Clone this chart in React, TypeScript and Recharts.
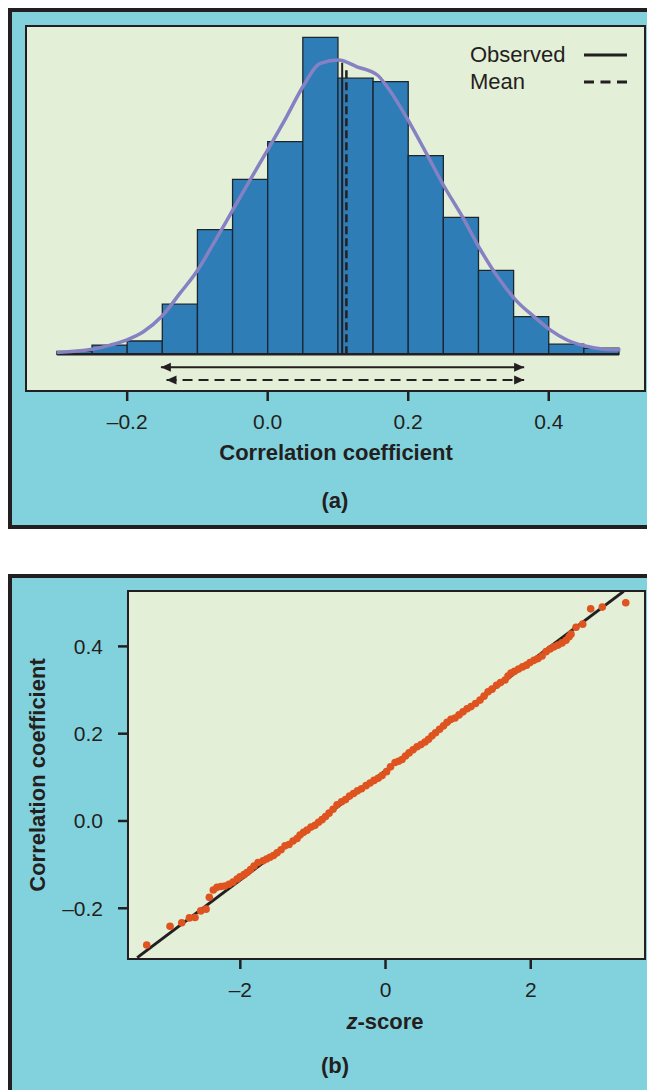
import React from 'react';
import { ComposedChart, XAxis, YAxis, Line, ReferenceArea, Scatter, Legend } from 'recharts';

// ---------- Panel (a): histogram of correlation coefficients ----------
const binStarts = [-0.3, -0.25, -0.2, -0.15, -0.1, -0.05, 0.0, 0.05, 0.1, 0.15, 0.2, 0.25, 0.3, 0.35, 0.4, 0.45];
const binCounts = [0.9, 2.9, 4.2, 15.8, 39.3, 55.2, 67.1, 100, 87.1, 86.0, 62.7, 43.2, 26.5, 11.9, 3.2, 1.9];
const binWidth = 0.05;

const curveR = [-0.3, -0.25, -0.224, -0.201, -0.177, -0.151, -0.125, -0.101, -0.077, -0.051, -0.025, 0.0, 0.027, 0.05, 0.075, 0.101, 0.127, 0.156, 0.17, 0.201, 0.227, 0.25, 0.277, 0.303, 0.327, 0.353, 0.379, 0.402, 0.426, 0.452, 0.478, 0.502];
const curveDensity = [0.6, 1.6, 2.9, 4.5, 7.1, 11.9, 19.2, 26.1, 35.0, 45.0, 55.0, 64.5, 75.0, 84.4, 91.8, 92.8, 90.7, 88.1, 84.4, 73.4, 62.9, 53.4, 43.4, 32.9, 24.5, 17.1, 11.9, 7.7, 4.5, 2.6, 1.6, 1.4];

const observedR = 0.106;
const observedTop = 92;
const meanR = 0.112;
const meanTop = 90;
const observedInterval = [-0.152, 0.365];
const meanInterval = [-0.144, 0.365];
const histRange = [-0.3, 0.5];
const histTicks = [-0.2, 0, 0.2, 0.4];

// ---------- Panel (b): normal quantile plot ----------
const qqZ = [-3.289, -2.968, -2.807, -2.702, -2.624, -2.545, -2.472, -2.427, -2.372, -2.321,
  -2.266, -2.211, -2.156, -2.1, -2.045, -2.004, -1.949, -1.908, -1.859, -1.811,
  -1.756, -1.687, -1.639, -1.591, -1.543, -1.494, -1.439, -1.384, -1.329, -1.274,
  -1.219, -1.178, -1.129, -1.081, -1.026, -0.971, -0.923, -0.875, -0.826, -0.778,
  -0.723, -0.668, -0.606, -0.551, -0.496, -0.441, -0.386, -0.331, -0.269, -0.213,
  -0.158, -0.103, -0.048, 0.014, 0.069, 0.131, 0.179, 0.227, 0.275, 0.324,
  0.379, 0.434, 0.489, 0.544, 0.592, 0.64, 0.689, 0.744, 0.799, 0.847,
  0.902, 0.957, 1.012, 1.067, 1.123, 1.178, 1.24, 1.302, 1.357, 1.412,
  1.467, 1.529, 1.584, 1.646, 1.687, 1.729, 1.777, 1.832, 1.887, 1.942,
  1.99, 2.045, 2.1, 2.156, 2.211, 2.266, 2.321, 2.376, 2.431, 2.486,
  2.528, 2.555, 2.624, 2.716, 2.826, 2.986, 3.309];
const qqR = [-0.284, -0.241, -0.233, -0.222, -0.221, -0.206, -0.202, -0.175, -0.158, -0.152,
  -0.15, -0.149, -0.145, -0.14, -0.133, -0.128, -0.123, -0.118, -0.111, -0.103,
  -0.095, -0.091, -0.087, -0.083, -0.079, -0.073, -0.066, -0.057, -0.054, -0.046,
  -0.04, -0.032, -0.026, -0.021, -0.014, -0.01, -0.003, 0.003, 0.01, 0.018,
  0.027, 0.037, 0.044, 0.049, 0.057, 0.063, 0.069, 0.074, 0.081, 0.087,
  0.093, 0.098, 0.104, 0.113, 0.124, 0.134, 0.137, 0.141, 0.149, 0.156,
  0.163, 0.17, 0.175, 0.181, 0.187, 0.195, 0.202, 0.21, 0.218, 0.226,
  0.233, 0.236, 0.243, 0.25, 0.257, 0.262, 0.269, 0.277, 0.286, 0.296,
  0.302, 0.311, 0.317, 0.323, 0.332, 0.339, 0.343, 0.348, 0.353, 0.357,
  0.363, 0.368, 0.372, 0.378, 0.388, 0.394, 0.399, 0.403, 0.408, 0.414,
  0.422, 0.428, 0.444, 0.451, 0.486, 0.49, 0.5];
const fitLineZ = [-3.42, 3.28];
const fitLineR = [-0.313, 0.526];
const qqXTicks = [-2, 0, 2];
const qqYTicks = [-0.2, 0, 0.2, 0.4];

// ---------- styles ----------
const FONT = "'Liberation Sans', Arial, Helvetica, sans-serif";
const INK = '#231F20';
const CYAN = '#82D2DE';
const PAPER = '#E4EFD7';
const BAR = '#2E7DB7';
const CURVE = '#8681C3';
const DOT = '#DE531F';

if (typeof document !== 'undefined') {
  document.body.style.margin = '0';
  document.body.style.overflow = 'hidden';
}

const fmtR = (v: number) => (v < 0 ? '\u2013' + Math.abs(v).toFixed(1) : v.toFixed(1));
const fmtZ = (v: number) => (v < 0 ? '\u2013' + Math.abs(v) : String(v));

const curveData = curveR.map((v, i) => ({ v, d: curveDensity[i] }));
const observedData = [{ v: observedR, d: 0 }, { v: observedR, d: observedTop }];
const meanData = [{ v: meanR, d: 0 }, { v: meanR, d: meanTop }];
const obsArrow = [{ v: observedInterval[0], d: -4.1 }, { v: observedInterval[1], d: -4.1 }];
const meanArrow = [{ v: meanInterval[0], d: -8.1 }, { v: meanInterval[1], d: -8.1 }];
const baseData = [{ v: histRange[0], d: 0 }, { v: histRange[1], d: 0 }];
const qqData = qqZ.map((z, i) => ({ z, r: qqR[i] }));
const fitData = fitLineZ.map((z, i) => ({ z, r: fitLineR[i] }));

const arrowHead = (props: any) => {
  const { cx, cy, index } = props;
  if (cx == null || cy == null) return <g key={'a' + index} />;
  const dir = index === 0 ? 1 : -1;
  const pts = `${cx},${cy} ${cx + dir * 10},${cy - 4.5} ${cx + dir * 10},${cy + 4.5}`;
  return <polygon key={'a' + index} points={pts} fill={INK} stroke="none" />;
};

const dotShape = (props: any) => <circle cx={props.cx} cy={props.cy} r={3.8} fill={DOT} />;

const LegendBox = () => (
  <div style={{ fontFamily: FONT, fontSize: 22, lineHeight: '27px', color: INK }}>
    <div style={{ display: 'flex', alignItems: 'center', height: 27 }}>
      <span style={{ width: 114, display: 'inline-block' }}>Observed</span>
      <svg width={44} height={6}><line x1={0} y1={3} x2={43} y2={3} stroke={INK} strokeWidth={3} /></svg>
    </div>
    <div style={{ display: 'flex', alignItems: 'center', height: 27 }}>
      <span style={{ width: 114, display: 'inline-block' }}>Mean</span>
      <svg width={44} height={6}><line x1={0} y1={3} x2={43} y2={3} stroke={INK} strokeWidth={3} strokeDasharray="10 6.5" /></svg>
    </div>
  </div>
);

const caption = (text: React.ReactNode, left: number, top: number, width: number): React.ReactNode => (
  <div style={{ position: 'absolute', left, top, width, textAlign: 'center', fontFamily: FONT, fontSize: 22, lineHeight: '22px', fontWeight: 700, color: INK, whiteSpace: 'nowrap' }}>{text}</div>
);

export default function App() {
  return (
    <div style={{ position: 'relative', width: 647, height: 1090, overflow: 'hidden', fontFamily: FONT, background: '#fff' }}>
      <div style={{ position: 'absolute', left: 8, top: 8, width: 639, height: 1082, overflow: 'hidden' }}>
        {/* panel frames */}
        <div style={{ position: 'absolute', left: 0, top: 0, width: 700, height: 521, boxSizing: 'border-box', border: `4px solid ${INK}`, background: CYAN }} />
        <div style={{ position: 'absolute', left: 0, top: 566, width: 700, height: 540, boxSizing: 'border-box', border: `4px solid ${INK}`, background: CYAN }} />
        {/* plot boxes */}
        <div style={{ position: 'absolute', left: 17, top: 17, width: 621, height: 367, boxSizing: 'border-box', border: `2.5px solid ${INK}`, background: PAPER }} />
        <div style={{ position: 'absolute', left: 119, top: 582, width: 519, height: 370, boxSizing: 'border-box', border: `2.5px solid ${INK}`, background: PAPER }} />

        {/* chart (a) */}
        <div style={{ position: 'absolute', left: 0, top: 0 }}>
          <ComposedChart width={660} height={521} margin={{ top: 18, right: 23, bottom: 0, left: 18 }}>
            <XAxis
              type="number"
              dataKey="v"
              domain={[-0.344, 0.537]}
              allowDataOverflow
              ticks={histTicks}
              tickFormatter={fmtR}
              axisLine={false}
              tickSize={10}
              tickMargin={13}
              tickLine={{ stroke: INK, strokeWidth: 2.5 }}
              tick={{ fontSize: 21, fill: INK, fontFamily: FONT }}
              height={138}
              interval={0}
            />
            <YAxis type="number" hide domain={[-11.58, 103.56]} allowDataOverflow />
            {binStarts.map((b, i) => (
              <ReferenceArea
                key={'bin' + i}
                x1={b}
                x2={b + binWidth}
                y1={0}
                y2={binCounts[i]}
                fill={BAR}
                fillOpacity={1}
                stroke="#1B2630"
                strokeWidth={1.3}
                ifOverflow="visible"
              />
            ))}
            <Line data={baseData} dataKey="d" type="linear" stroke={INK} strokeWidth={2.5} dot={false} activeDot={false} isAnimationActive={false} legendType="none" />
            <Line data={curveData} dataKey="d" type="monotone" stroke={CURVE} strokeWidth={3.5} dot={false} activeDot={false} isAnimationActive={false} legendType="none" />
            <Line data={observedData} dataKey="d" type="linear" stroke={INK} strokeWidth={2} dot={false} activeDot={false} isAnimationActive={false} legendType="none" />
            <Line data={meanData} dataKey="d" type="linear" stroke={INK} strokeWidth={2.5} strokeDasharray="8 4" dot={false} activeDot={false} isAnimationActive={false} legendType="none" />
            <Line data={obsArrow} dataKey="d" type="linear" stroke={INK} strokeWidth={2} dot={arrowHead} activeDot={false} isAnimationActive={false} legendType="none" />
            <Line data={meanArrow} dataKey="d" type="linear" stroke={INK} strokeWidth={2} strokeDasharray="10 6" dot={arrowHead} activeDot={false} isAnimationActive={false} legendType="none" />
            <Legend
              layout="vertical"
              align="center"
              verticalAlign="middle"
              wrapperStyle={{ top: 33, left: 462, width: 180, height: 54 }}
              content={() => <LegendBox />}
            />
          </ComposedChart>
        </div>

        {/* chart (b) */}
        <div style={{ position: 'absolute', left: 0, top: 566 }}>
          <ComposedChart width={660} height={516} margin={{ top: 17, right: 23, bottom: 0, left: 0 }}>
            <XAxis
              type="number"
              dataKey="z"
              domain={[-3.547, 3.574]}
              allowDataOverflow
              ticks={qqXTicks}
              tickFormatter={fmtZ}
              axisLine={false}
              tickSize={10}
              tickMargin={13}
              tickLine={{ stroke: INK, strokeWidth: 2.5 }}
              tick={{ fontSize: 21, fill: INK, fontFamily: FONT }}
              height={131}
              interval={0}
            />
            <YAxis
              type="number"
              dataKey="r"
              domain={[-0.3162, 0.5269]}
              allowDataOverflow
              ticks={qqYTicks}
              tickFormatter={fmtR}
              axisLine={false}
              tickSize={10}
              tickMargin={15}
              tickLine={{ stroke: INK, strokeWidth: 2.5 }}
              tick={{ fontSize: 21, fill: INK, fontFamily: FONT }}
              width={120}
              interval={0}
            />
            <Line data={fitData} dataKey="r" type="linear" stroke={INK} strokeWidth={3} dot={false} activeDot={false} isAnimationActive={false} />
            <Scatter data={qqData} dataKey="r" shape={dotShape} isAnimationActive={false} />
          </ComposedChart>
        </div>

        {/* axis titles and panel captions */}
        {caption('Correlation coefficient', 178, 434, 300)}
        {caption('(a)', 227, 482, 200)}
        {caption(<span><i>z</i>-score</span>, 277, 1003, 200)}
        {caption('(b)', 227, 1047, 200)}
        <div style={{ position: 'absolute', left: -120, top: 756, width: 300, height: 22, textAlign: 'center', fontFamily: FONT, fontSize: 22, lineHeight: '22px', fontWeight: 700, color: INK, transform: 'rotate(-90deg)', whiteSpace: 'nowrap' }}>
          Correlation coefficient
        </div>
      </div>
    </div>
  );
}
